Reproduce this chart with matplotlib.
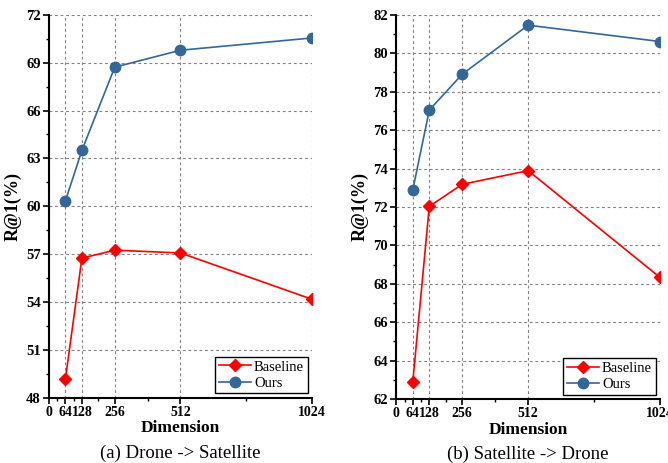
import matplotlib
matplotlib.use("Agg")
import matplotlib.pyplot as plt

dims = [64, 128, 256, 512, 1024]
a_baseline = [49.2, 56.75, 57.25, 57.07, 54.17]
a_ours = [60.35, 63.5, 68.72, 69.78, 70.55]
b_baseline = [62.9, 72.03, 73.18, 73.89, 68.33]
b_ours = [72.89, 77.04, 78.91, 81.46, 80.61]
xticks = [0, 64, 128, 256, 512, 1024]
xminor = [32, 96, 192, 384, 768]
a_yticks = [48, 51, 54, 57, 60, 63, 66, 69, 72]
b_yticks = [62, 64, 66, 68, 70, 72, 74, 76, 78, 80, 82]
legend_labels = ['Baseline', 'Ours']
captions = ['(a) Drone -> Satellite', '(b) Satellite -> Drone']

plt.rcParams['font.family'] = ['Liberation Serif', 'DejaVu Serif']

fig = plt.figure(figsize=(6.68, 4.63), dpi=100)
ax1 = fig.add_axes([0.0734, 0.141, 0.3936, 0.827])
ax2 = fig.add_axes([0.5933, 0.138, 0.3947, 0.830])

red = '#FF0000'
blue = '#336699'

panels = [
    (ax1, a_baseline, a_ours, a_yticks, captions[0]),
    (ax2, b_baseline, b_ours, b_yticks, captions[1]),
]
for ax, base, ours, yt, cap in panels:
    ax.plot(dims, base, color=red, marker='D', markersize=6.5, lw=1.2, label=legend_labels[0], zorder=3)
    ax.plot(dims, ours, color=blue, marker='o', markersize=7.5, lw=1.2, label=legend_labels[1], zorder=3)
    ax.set_xlim(0, 1024)
    ax.set_ylim(yt[0], yt[-1])
    ax.set_xticks(xticks)
    ax.set_xticklabels([str(t) for t in xticks], fontweight='bold', fontsize=10)
    ax.set_xticks(xminor, minor=True)
    ax.set_yticks(yt)
    ax.set_yticklabels([str(t) for t in yt], fontweight='bold', fontsize=10.5)
    step = yt[1] - yt[0]
    ax.set_yticks([t + step / 2 for t in yt[:-1]], minor=True)
    for s in ['top', 'right']:
        ax.spines[s].set_visible(False)
    for s in ['left', 'bottom']:
        ax.spines[s].set_linewidth(1.5)
    ax.tick_params(which='major', direction='out', length=4, width=1.2, pad=2)
    ax.tick_params(which='minor', direction='out', length=2.5, width=1.0)
    ax.grid(True, which='major', color='#808080', linestyle=(0, (2.5, 2.5)), linewidth=0.8)
    ax.set_axisbelow(True)
    ax.set_xlabel('Dimension', fontweight='bold', fontsize=12.5, labelpad=1)
    ax.set_ylabel('R@1(%)', fontweight='bold', fontsize=13, labelpad=3)
    ax.text(0.5, -0.122, cap, transform=ax.transAxes, ha='center', va='top', fontsize=13.5)
    leg = ax.legend(loc='lower right', frameon=True, fancybox=False, edgecolor='black',
                    fontsize=10.5, handlelength=2.2, borderpad=0.25, labelspacing=0.2,
                    handletextpad=0.2, borderaxespad=0.3, framealpha=1)
    leg.get_frame().set_linewidth(1.0)

fig.savefig('out.png', dpi=100)
